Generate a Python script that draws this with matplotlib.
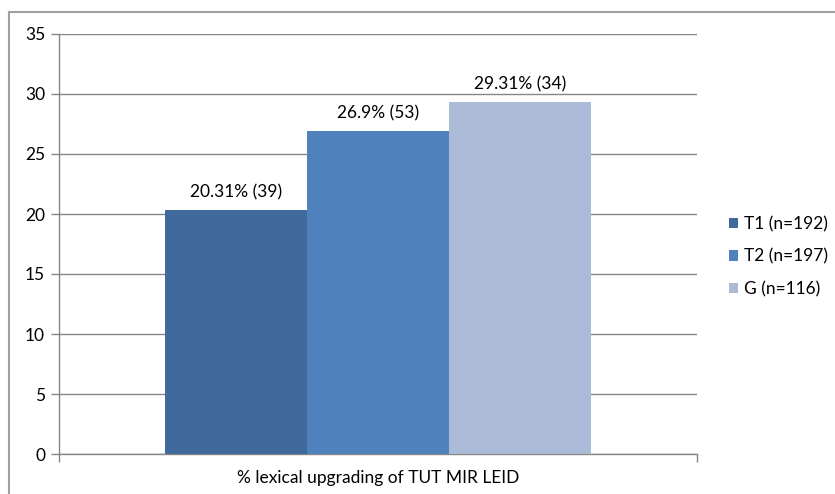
import matplotlib
matplotlib.use("Agg")
import matplotlib.pyplot as plt
from matplotlib.lines import Line2D

series = ["T1 (n=192)", "T2 (n=197)", "G (n=116)"]
values = [20.31, 26.9, 29.31]
labels = ["20.31% (39)", "26.9% (53)", "29.31% (34)"]
colors = ["#3F6A9B", "#4F81BD", "#AABAD7"]
category = "% lexical upgrading of TUT MIR LEID"
yticks = [0, 5, 10, 15, 20, 25, 30, 35]

plt.rcParams['font.family'] = ['Lato', 'DejaVu Sans']
FS = 12.5

fig = plt.figure(figsize=(8.35, 4.94), dpi=100)
ax = fig.add_axes([59/835, 1-454/494, (697-59)/835, (454-34)/494])

group_w = 2/3
bw = group_w / len(values)
start = 0.5 - group_w/2 + bw/2
for i, (v, lab, c, s) in enumerate(zip(values, labels, colors, series)):
    x = start + i*bw
    ax.bar(x, v, width=bw, color=c, label=s, zorder=3)
    ax.annotate(lab, (x, v), xytext=(0, 7), textcoords="offset points",
                ha="center", va="bottom", fontsize=FS, color="#000000")

ax.set_xlim(0, 1)
ax.set_ylim(0, 35)
ax.set_yticks(yticks)
ax.set_yticklabels([str(t) for t in yticks], fontsize=FS)
ax.set_xticks([0, 1])
ax.set_xticklabels([])
ax.tick_params(axis='y', length=6, width=1, color="#868686", pad=4)
ax.tick_params(axis='x', length=6, width=1, color="#868686")
ax.yaxis.grid(True, color="#868686", linewidth=1, zorder=0)
ax.set_axisbelow(True)
for sp in ["top", "right"]:
    ax.spines[sp].set_visible(False)
for sp in ["left", "bottom"]:
    ax.spines[sp].set_color("#868686")
    ax.spines[sp].set_linewidth(1)
ax.set_xlabel(category, fontsize=FS, labelpad=2)

leg = fig.legend(loc="upper left", bbox_to_anchor=(722/835, 1-209/494),
                 frameon=False, fontsize=FS, handlelength=0.55, handleheight=0.55,
                 handletextpad=0.3, labelspacing=0.95, borderaxespad=0)

# chart border (top and left visible)
fig.add_artist(Line2D([9/835, 1], [1-12/494, 1-12/494], color="#A0A0A0", lw=1.5,
                      transform=fig.transFigure))
fig.add_artist(Line2D([9/835, 9/835], [0, 1-12/494], color="#A0A0A0", lw=1.5,
                      transform=fig.transFigure))

fig.savefig("out.png", dpi=100)
